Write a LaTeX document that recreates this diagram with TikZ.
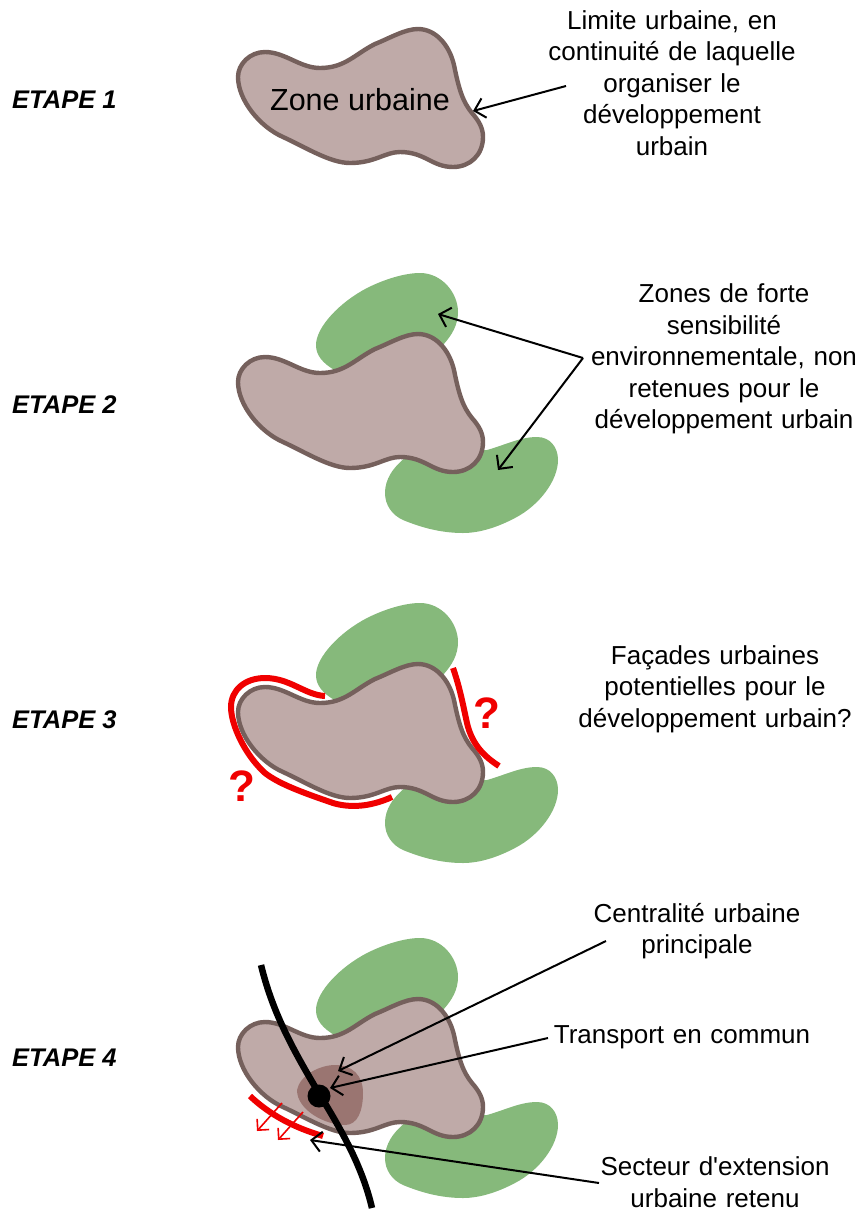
\documentclass[tikz,border=0pt]{standalone}
\usepackage{fontspec}
\setmainfont{Liberation Sans}
\usetikzlibrary{arrows.meta}

\newcommand{\greenzones}{%
    \fill [greenzone] (316,40) .. controls (316,22) and (340,-3) .. (367,-17)
        .. controls (385,-26) and (405,-32) .. (420,-32)
        .. controls (442,-32) and (458,-12) .. (458,7)
        .. controls (458,20) and (452,30) .. (443,40)
        -- (336,66) .. controls (322,58) and (316,50) .. (316,40) -- cycle;
    \fill [greenzone] (385,188) .. controls (385,175) and (392,162) .. (410,149)
        -- (487,145) .. controls (505,140) and (520,132) .. (537,132)
        .. controls (550,132) and (558,142) .. (558,155)
        .. controls (558,175) and (540,200) .. (515,213)
        .. controls (498,222) and (480,228) .. (463,228)
        .. controls (440,228) and (420,222) .. (403,215)
        .. controls (392,210) and (385,200) .. (385,188) -- cycle;
}
\newcommand{\zoneblob}{%
    \draw [urbanzone] (238,77) .. controls (238,64) and (250,52) .. (265,52)
        .. controls (285,52) and (300,68) .. (320,68)
        .. controls (345,68) and (355,54) .. (375,44)
        .. controls (390,38) and (405,29) .. (418,29)
        .. controls (435,29) and (449,44) .. (454,65)
        .. controls (459,90) and (463,102) .. (472,113)
        .. controls (479,121) and (483,128) .. (483,137)
        .. controls (483,155) and (470,167) .. (453,167)
        .. controls (432,167) and (425,152) .. (400,152)
        .. controls (385,152) and (375,163) .. (350,163)
        .. controls (330,163) and (305,147) .. (283,137)
        .. controls (260,127) and (238,100) .. (238,77) -- cycle;
}

\begin{document}
\begin{tikzpicture}[
    x=1pt, y=-1pt,
    stage/.style = {
        anchor=west,
        inner sep=0pt,
        font=\fontsize{25.5}{28}\selectfont\bfseries\itshape
    },
    legend/.style = {
        text width=10.2cm,
        align=center,
        inner sep=0pt,
        font=\fontsize{26}{31.5}\selectfont
    },
    question/.style = {
        inner sep=0pt,
        text=redline,
        font=\fontsize{44}{46}\selectfont\bfseries
    },
    arrow/.style = {
        -{Straight Barb[length=10pt,width=20pt]},
        line width=2pt,
        draw=black
    },
    redarrow/.style = {
        -{Straight Barb[length=8pt,width=16pt]},
        line width=1.6pt,
        draw=redline
    },
    greenzone/.style = {fill=greenarea},
    urbanzone/.style = {draw=urbanedge, fill=urbanfill, line width=4.4pt},
    facade/.style = {draw=redline, line width=6pt},
    transit/.style = {draw=black, line width=6.5pt}
]
\definecolor{greenarea}{HTML}{86B97B}
\definecolor{urbanedge}{HTML}{75605C}
\definecolor{urbanfill}{HTML}{BFAAA8}
\definecolor{centrefill}{HTML}{9A7571}
\definecolor{redline}{HTML}{F00000}

\useasboundingbox (0,0) rectangle (862,1211);

% step 1
\zoneblob
\node (zone) at (360,100) [inner sep=0pt, font=\fontsize{30.5}{34}\selectfont] {Zone urbaine};
\node (etape1) at (12,100) [stage] {ETAPE 1};
\node (limite) at (672,83) [legend] {Limite urbaine, en\\ continuité de laquelle\\ organiser le\\ développement\\ urbain};
\coordinate (limitestart) at (566,86);
\coordinate (limiteend) at (473,111);
\draw [arrow] (limitestart) -- (limiteend);

% step 2
\begin{scope}[shift={(0,305)}]
\greenzones
\zoneblob
\end{scope}
\node (etape2) at (12,405) [stage] {ETAPE 2};
\node (sensible) at (724,359) [legend] {Zones de forte\\ sensibilité\\ environnementale, non\\ retenues pour le\\ développement urbain};
\coordinate (sensstart) at (583,358);
\coordinate (sensnorth) at (438,314);
\coordinate (senssouth) at (498,470);
\draw [arrow] (sensstart) -- (sensnorth);
\draw [arrow] (sensstart) -- (senssouth);

% step 3
\begin{scope}[shift={(0,635)}]
\greenzones
\zoneblob
\end{scope}
\draw [facade] (325,696) .. controls (305,695) and (290,678) .. (265,678)
    .. controls (245,678) and (231,690) .. (231,707)
    .. controls (231,725) and (245,755) .. (265,773)
    .. controls (280,785) and (310,795) .. (333,803)
    .. controls (350,808) and (370,807) .. (392,797);
\draw [facade] (453,668) .. controls (460,688) and (463,705) .. (467,723)
    .. controls (472,745) and (485,757) .. (499,766);
\node (quest1) at (487,713) [question] {?};
\node (quest2) at (242,786) [question] {?};
\node (etape3) at (12,720) [stage] {ETAPE 3};
\node (facades) at (715,689) [legend] {Façades urbaines\\ potentielles pour le\\ développement urbain?};

% step 4
\begin{scope}[shift={(0,970)}]
\greenzones
\zoneblob
\end{scope}
\fill [centrefill] (297,1090) .. controls (300,1075) and (320,1065) .. (335,1065)
    .. controls (352,1065) and (363,1075) .. (363,1093)
    .. controls (363,1110) and (358,1125) .. (345,1125)
    .. controls (325,1125) and (297,1110) .. (297,1090) -- cycle;
\draw [transit] (261,965) .. controls (272,1010) and (290,1045) .. (320,1095)
    .. controls (340,1128) and (362,1165) .. (372,1208);
\node (stop) at (319,1096) [circle, fill=black, minimum size=23pt, inner sep=0pt] {};
\draw [facade] (250,1096) .. controls (270,1115) and (295,1128) .. (323,1136);
\coordinate (push1) at (282,1103);
\coordinate (push1end) at (257,1131);
\coordinate (push2) at (303,1112);
\coordinate (push2end) at (278,1140);
\draw [redarrow] (push1) -- (push1end);
\draw [redarrow] (push2) -- (push2end);
\node (etape4) at (12,1058) [stage] {ETAPE 4};
\node (centre) at (697,931) [legend] {Centralité urbaine\\ principale};
\node (transport) at (682,1037) [legend] {Transport en commun};
\node (secteur) at (715,1182) [legend] {Secteur d\textquotesingle extension\\ urbaine retenu};
\coordinate (centrestart) at (606,941);
\coordinate (centreend) at (338,1071);
\coordinate (transportstart) at (548,1038);
\coordinate (transportend) at (330,1088);
\coordinate (secteurstart) at (599,1183);
\coordinate (secteurend) at (310,1140);
\draw [arrow] (centrestart) -- (centreend);
\draw [arrow] (transportstart) -- (transportend);
\draw [arrow] (secteurstart) -- (secteurend);

\end{tikzpicture}
\end{document}
